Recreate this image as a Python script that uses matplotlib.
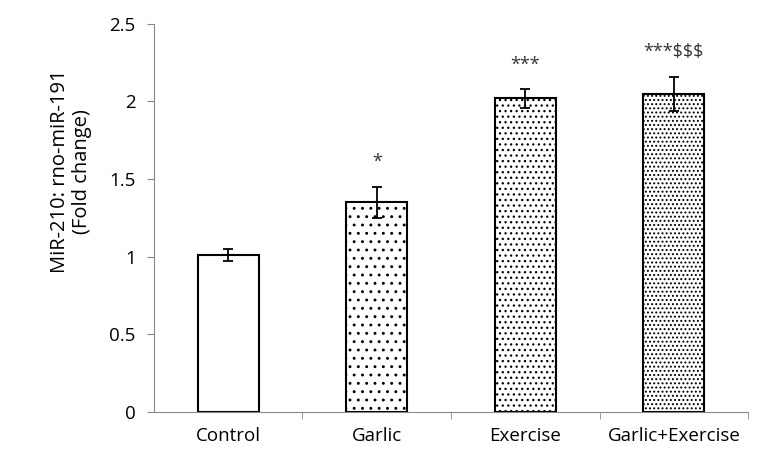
import matplotlib
matplotlib.use("Agg")
import matplotlib.pyplot as plt

# data
groups = ["Control", "Garlic", "Exercise", "Garlic+Exercise"]
means = [1.01, 1.35, 2.02, 2.05]
errors = [0.04, 0.10, 0.06, 0.11]
marks = ["", "*", "***", "***$$$"]
hatches = ["", "..", "...", "...."]

plt.rcParams["font.family"] = ["Open Sans", "DejaVu Sans"]
plt.rcParams["hatch.color"] = "#222222"
plt.rcParams["hatch.linewidth"] = 0.9

fig = plt.figure(figsize=(7.65, 4.68), dpi=100)
ax = fig.add_axes([0.201, 0.12, 0.777, 0.829])

x = range(len(groups))
ax.bar(x, means, width=0.41, color="white", edgecolor="black", linewidth=1.5,
       hatch=hatches, zorder=2)
ax.errorbar(x, means, yerr=errors, fmt="none", ecolor="black", elinewidth=1.3,
            capsize=3.6, capthick=1.3, zorder=3)

for i, m in enumerate(marks):
    if m:
        ax.text(i, means[i] + errors[i] + 0.1, m, ha="center", va="bottom",
                fontsize=13, color="#333333")

ax.set_xlim(-0.5, len(groups) - 0.5)
ax.set_ylim(0, 2.5)
ax.set_yticks([0, 0.5, 1, 1.5, 2, 2.5])
ax.set_yticklabels(["0", "0.5", "1", "1.5", "2", "2.5"])
ax.set_xticks(list(x))
ax.set_xticklabels(groups)
ax.set_xticks([0.5, 1.5, 2.5, 3.5], minor=True)
ax.tick_params(axis="x", which="major", length=0, pad=11, labelsize=13.5)
ax.tick_params(axis="x", which="minor", length=5, color="#888888")
ax.tick_params(axis="y", length=5, color="#888888", labelsize=13.5, pad=8)

for s in ["top", "right"]:
    ax.spines[s].set_visible(False)
for s in ["left", "bottom"]:
    ax.spines[s].set_color("#888888")

ax.set_ylabel("MiR-210: rno-miR-191\n(Fold change)", fontsize=14.5,
              linespacing=1.1)
ax.yaxis.set_label_coords(-0.104, 0.62)

fig.savefig("out.png", dpi=100)
